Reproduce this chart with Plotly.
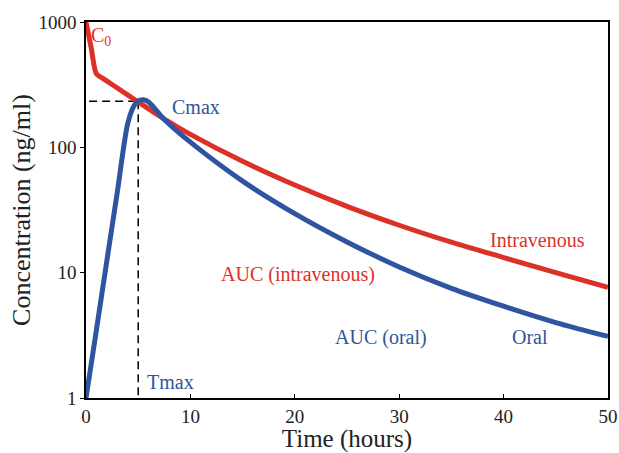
import plotly.graph_objects as go

# time points (hours) and concentrations (ng/ml)
iv_time = [0, 0.5, 1, 1.5, 2.5, 5, 7.5, 10, 15, 20, 25, 30, 35, 40, 45, 50]
iv_conc = [1000, 620, 385, 360, 317, 230, 168, 127, 77.4, 50, 33.8, 23.9, 17.5, 13.2, 10, 7.65]

oral_time = [0, 1, 2, 3, 4, 4.6, 5, 5.5, 6, 7.5, 10, 15, 20, 25, 30, 35, 40, 45, 50]
oral_conc = [1, 3.5, 12.5, 44, 155, 215, 235, 240, 230, 167, 110, 53.8, 29.6, 17.6, 11.1, 7.5, 5.4, 4.0, 3.1]

tmax = 5.0
cmax = 233

RED = "#DC3129"
BLUE = "#2F54A0"
FONT = "Liberation Serif"

fig = go.Figure()

# dashed guides for Cmax / Tmax
fig.add_trace(go.Scatter(x=[0.3, tmax], y=[cmax, cmax], mode="lines",
                         line=dict(color="black", width=1.5, dash="8px,5px"),
                         hoverinfo="skip"))
fig.add_trace(go.Scatter(x=[tmax, tmax], y=[cmax, 1], mode="lines",
                         line=dict(color="black", width=1.5, dash="8px,5px"),
                         hoverinfo="skip"))

fig.add_trace(go.Scatter(x=iv_time, y=iv_conc, mode="lines", name="Intravenous",
                         line=dict(color=RED, width=5, shape="spline", smoothing=0.8)))
fig.add_trace(go.Scatter(x=oral_time, y=oral_conc, mode="lines", name="Oral",
                         line=dict(color=BLUE, width=5, shape="spline", smoothing=0.8)))

labels = [
    ("C<sub>0</sub>", 1.4, 2.888, RED),
    ("Cmax", 10.5, 2.322, BLUE),
    ("Tmax", 8.1, 0.127, BLUE),
    ("AUC (intravenous)", 20.3, 0.989, RED),
    ("AUC (oral)", 28.3, 0.486, BLUE),
    ("Intravenous", 43.2, 1.26, RED),
    ("Oral", 42.5, 0.486, BLUE),
]
for txt, x, y, col in labels:
    fig.add_annotation(x=x, y=y, text=txt, showarrow=False,
                       font=dict(family=FONT, size=20, color=col))

fig.update_layout(
    width=619, height=453,
    margin=dict(l=86, r=11, t=22, b=55),
    plot_bgcolor="white", paper_bgcolor="white",
    showlegend=False,
    font=dict(family=FONT, size=19, color="#222"),
)
fig.update_xaxes(
    range=[0, 50], tickvals=[0, 10, 20, 30, 40, 50],
    ticks="inside", ticklen=4, tickcolor="black",
    showline=True, linecolor="black", linewidth=1.5, mirror=True,
    showgrid=False, zeroline=False, automargin=False,
    title=dict(text="Time (hours)", font=dict(size=25), standoff=6),
)
fig.update_yaxes(
    type="log", range=[0, 3], tickvals=[1, 10, 100, 1000],
    ticktext=["1", "10", "100", "1000"],
    ticks="outside", ticklen=4, tickcolor="black",
    showline=True, linecolor="black", linewidth=1.5, mirror=True,
    showgrid=False, zeroline=False, automargin=False,
    title=dict(text="Concentration (ng/ml)", font=dict(size=26), standoff=0),
)

# drop the default 8px page margin so the figure fills the window
fig.write_html("out.html", config={"displayModeBar": False},
               post_script="document.body.style.margin='0';")
